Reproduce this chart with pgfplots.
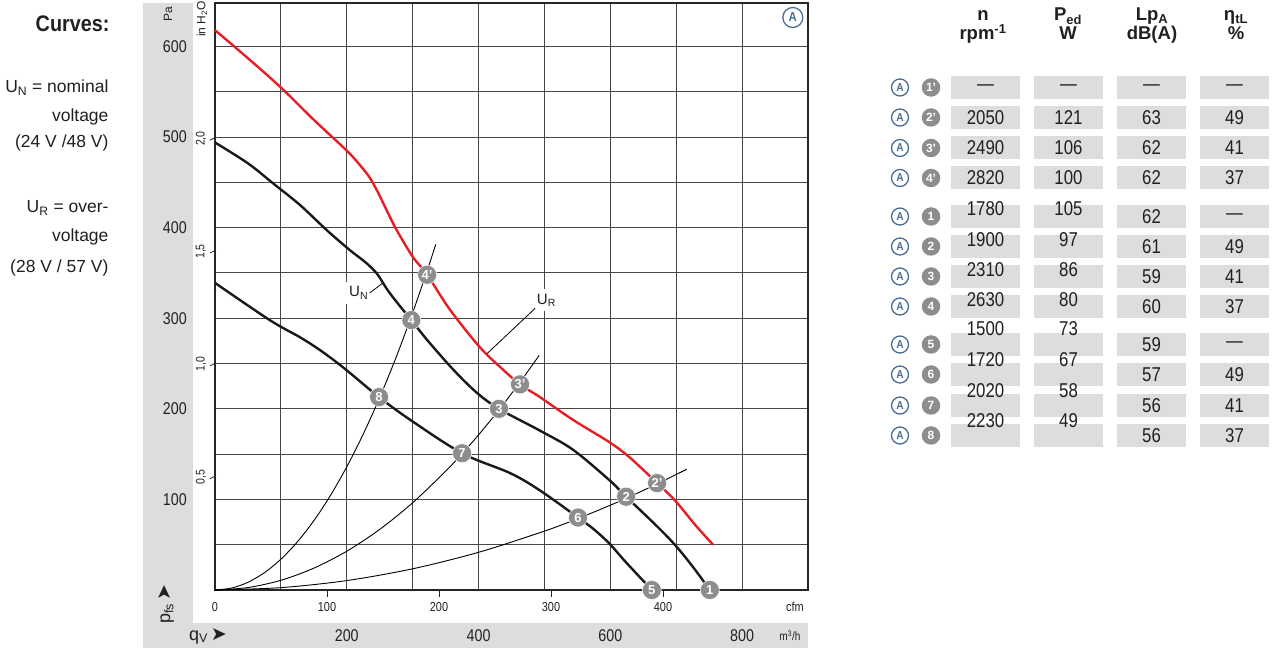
\documentclass[border=0pt]{standalone}
\usepackage{pgfplots}
\pgfplotsset{compat=1.18}
\usepackage{fontspec}
\setmainfont{Liberation Sans}
\newfontfamily\cond{Liberation Sans}[FakeStretch=0.84]
\newfontfamily\condb{Liberation Sans Bold}[FakeStretch=0.88]
\newfontfamily\dejavu{DejaVu Sans}
\definecolor{band}{RGB}{220,221,222}
\definecolor{mgray}{RGB}{140,141,143}
\definecolor{fred}{RGB}{230,30,37}
\definecolor{ablue}{RGB}{75,110,150}
\definecolor{txt}{RGB}{35,31,32}
\newcommand\fs[1]{\fontsize{#1}{#1}\selectfont}
\tikzset{
  num/.style={circle, fill=mgray, text=white, inner sep=0pt, minimum size=18.5pt, font=\fs{12}\bfseries},
  acirc/.style={circle, draw=ablue, line width=1.3pt, text=ablue, inner sep=0pt, minimum size=17pt, font=\condb\fs{11.5}},
}
\newcommand\trow[7]{%
  \node[acirc] at (900,#1) {A};
  \node[num] at (931,#1) {#2};
  \fill[band] (951,#1-11.5) rectangle (1020,#1+11.5);
  \fill[band] (1034,#1-11.5) rectangle (1103,#1+11.5);
  \fill[band] (1117,#1-11.5) rectangle (1186,#1+11.5);
  \fill[band] (1200,#1-11.5) rectangle (1269,#1+11.5);
  \node[font=\cond\fs{20}] at (985.5,#1-#7) {#3};
  \node[font=\cond\fs{20}] at (1068.5,#1-#7) {#4};
  \node[font=\cond\fs{20}] at (1151.5,#1) {#5};
  \node[font=\cond\fs{20}] at (1234.5,#1) {#6};
}
\begin{document}
\begin{tikzpicture}[x=1pt,y=1pt, every node/.style={text=txt}]
\useasboundingbox (-215,-58) rectangle (1060,590);
\begin{scope}[shift={(-215,590)}, yscale=-1]
  % grey bands
  \fill[band] (143,3) rectangle (193,648);
  \fill[band] (143,623) rectangle (808,648);
  % legend text
  \node[anchor=base east, font=\condb\fs{22.5}] at (113,32) {Curves:};
  \node[anchor=base east, font=\fs{17.5}] at (112,93) {U\textsubscript{N} = nominal};
  \node[anchor=base east, font=\fs{17.5}] at (112,122) {voltage};
  \node[anchor=base east, font=\fs{17.5}] at (112,148) {(24 V /48 V)};
  \node[anchor=base east, font=\fs{17.5}] at (112,213) {U\textsubscript{R} = over-};
  \node[anchor=base east, font=\fs{17.5}] at (112,242) {voltage};
  \node[anchor=base east, font=\fs{17.5}] at (112,273) {(28 V / 57 V)};
  % in H2O ticks
  \foreach \yy in {138.7,251.5,364.4,477.2} {\draw[black!85, line width=0.8pt] (210,\yy+1.5) -- (216,\yy-1.5);}
  % cfm ticks
  \foreach \xx in {327,439,551,663} {\draw[black!85, line width=0.8pt] (\xx,590) -- (\xx,597);}
  % table header
  \node[anchor=base, font=\fs{18.5}\bfseries] at (983,21) {n};
  \node[anchor=base, font=\fs{18.5}\bfseries] at (983,40) {rpm\textsuperscript{-1}};
  \node[anchor=base, font=\fs{18.5}\bfseries] at (1068,21) {P\textsubscript{ed}};
  \node[anchor=base, font=\fs{18.5}\bfseries] at (1068,40) {W};
  \node[anchor=base, font=\fs{18.5}\bfseries] at (1152,21) {Lp\textsubscript{A}};
  \node[anchor=base, font=\fs{18.5}\bfseries] at (1152,40) {dB(A)};
  \node[anchor=base, font=\fs{18.5}\bfseries] at (1236,21) {η\textsubscript{tL}};
  \node[anchor=base, font=\fs{18.5}\bfseries] at (1236,40) {\%};
  % table rows
  \trow{87.5}{1'}{—}{—}{—}{—}{0}
  \trow{117.5}{2'}{2050}{121}{63}{49}{0}
  \trow{148}{3'}{2490}{106}{62}{41}{0}
  \trow{178}{4'}{2820}{100}{62}{37}{0}
  \trow{216.5}{1}{1780}{105}{62}{—}{8}
  \trow{246.5}{2}{1900}{97}{61}{49}{7}
  \trow{276.5}{3}{2310}{86}{59}{41}{7}
  \trow{306.5}{4}{2630}{80}{60}{37}{7}
  \trow{344.5}{5}{1500}{73}{59}{—}{16}
  \trow{374.5}{6}{1720}{67}{57}{49}{15}
  \trow{405.5}{7}{2020}{58}{56}{41}{15}
  \trow{435.5}{8}{2230}{49}{56}{37}{15}
\end{scope}
% rotated and bottom labels
\node[rotate=90, font=\fs{12}] at (-47,576) {Pa};
\node[rotate=90, font=\fs{12}] at (-13,571) {in H\textsubscript{2}O};
\foreach \yy/\lab in {451.3/{2,0},338.5/{1,5},225.6/{1,0},112.8/{0,5}} {\node[rotate=90, font=\cond\fs{12.5}] at (-14,\yy) {\lab};}
\node[rotate=90, font=\fs{18}] at (-49,-14) {p\textsubscript{fs}\,{\dejavu\fs{19}➤}};
\node[font=\fs{18}] at (-7,-46) {q\textsubscript{V}\,{\dejavu\fs{19}➤}};
\foreach \xx/\lab in {0/0,112/100,224/200,336/300,448/400} {\node[font=\cond\fs{13}] at (\xx,-17) {\lab};}
\node[font=\cond\fs{13}] at (580,-17) {cfm};
\node[font=\cond\fs{12}] at (575,-46) {m\textsuperscript{3}/h};
\begin{axis}[at={(0,0)}, anchor=south west, scale only axis, width=593pt, height=587pt,
  xmin=0, xmax=900, ymin=0, ymax=648,
  xtick={0,100,...,900}, xticklabels={,,200,,400,,600,,800,},
  ytick={100,200,...,600}, yticklabels={100,200,300,400,500,600},
  minor ytick={50,150,...,550},
  grid=both,
  major grid style={draw=black!72, line width=1.1pt},
  minor grid style={draw=black!72, line width=1.1pt},
  major tick length=0pt, minor tick length=0pt,
  axis line style={draw=black!85, line width=1.3pt},
  xticklabel style={anchor=center, yshift=-46pt, font=\cond\fs{17}, text=txt},
  yticklabel style={anchor=east, inner sep=0pt, xshift=-28pt, font=\cond\fs{17}, text=txt},
  clip=false,
]
% system curves
\addplot[black, line width=0.9pt, smooth] coordinates {(0,0)(25,2.1)(50,8.5)(75,19.1)(100,34)(125,53.1)(150,76.5)(175,104.1)(200,136)(225,172.1)(250,212.5)(275,257.1)(300,306)(325,359.1)(335,381.5)};
\addplot[black, line width=0.9pt, smooth] coordinates {(0,0)(50,2.7)(100,10.7)(150,24.1)(200,42.8)(250,66.9)(300,96.3)(350,131.1)(375,150.5)(400,171.2)(431,198.8)(463,229.4)(492,259)};
\addplot[black, line width=0.9pt, smooth] coordinates {(0,0)(100,2.6)(200,10.4)(300,23.4)(400,41.6)(500,65)(551,78.9)(600,93.6)(624,101.2)(671,117.1)(716,133.3)};
% fan curves
\addplot[fred, line width=2.4pt, smooth, tension=0.55] coordinates {(0,618)(50,587)(101,554)(150,519)(200,485)(220,469)(235,455)(248,438)(262,417)(276,397)(300,368)(322,348)(357,309)(402,268)(433,246)(463,227)(493,213)(543,188)(599,163)(625,149)(645,136)(671,118)(698,99)(731,70)(756,50)};
\addplot[black!90, line width=2.4pt, smooth, tension=0.55] coordinates {(0,494)(50,471)(88,449)(129,425)(170,397)(205,375)(228,362)(246,349)(262,331)(280,314)(298,298)(322,276)(362,243)(397,218)(431,200)(493,176)(543,155)(599,121)(624,103)(660,78)(685,60)(705,44)(728,23)(751,0)};
\addplot[black!90, line width=2.4pt, smooth, tension=0.55] coordinates {(0,339)(83,298)(129,279)(159,265)(194,246)(249,213)(296,188)(375,151)(448,129)(493,110)(551,80)(575,67)(599,51)(622,32)(663,0)};
% labels
\node[fill=white, inner sep=5pt, font=\fs{15}] at (axis cs:218,328) {U\textsubscript{N}};
\draw[black, line width=0.8pt] (axis cs:235,328) -- (axis cs:255,339);
\node[fill=white, inner sep=5pt, font=\fs{15}] at (axis cs:503,320) {U\textsubscript{R}};
\draw[black, line width=0.8pt] (axis cs:486,311) -- (axis cs:413,261);
\node[acirc, minimum size=20pt, font=\condb\fs{13}] at (axis cs:877,632) {A};
% operating points
\addplot[only marks, mark=*, mark size=9.5pt, mark options={fill=mgray, draw=white, line width=0.5pt},
  nodes near coords, point meta=explicit symbolic,
  every node near coord/.append style={anchor=center, text=white, font=\fs{13}\bfseries, inner sep=0pt}]
  table[meta=l] {
x y l
751 0 1
624 103 2
671 118 2'
431 200 3
463 227 3'
298 298 4
322 348 4'
663 0 5
551 80 6
375 151 7
249 213 8
};
\end{axis}
\end{tikzpicture}
\end{document}
